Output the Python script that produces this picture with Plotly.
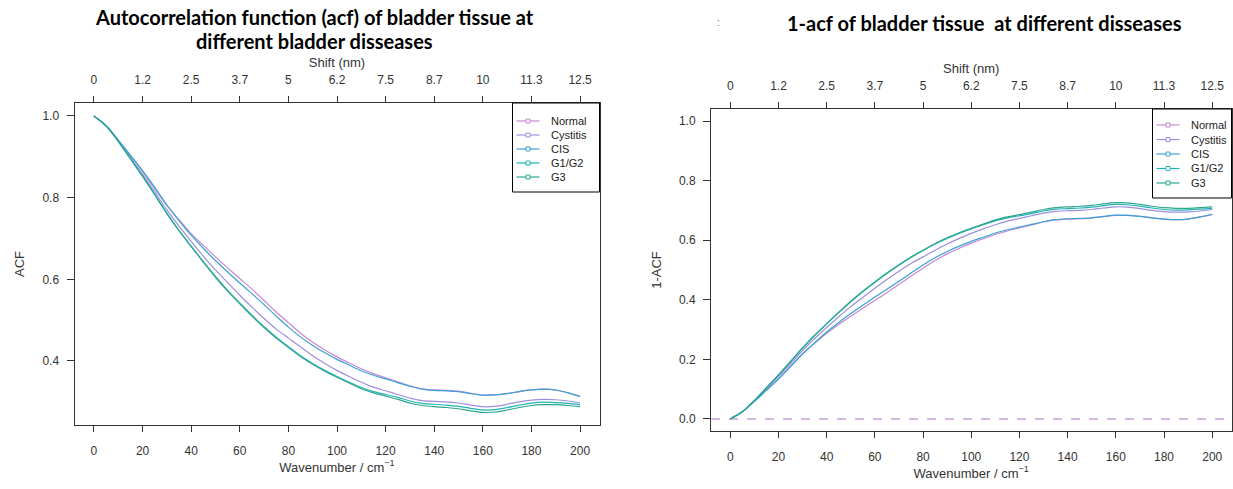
import plotly.graph_objects as go

# ---------------- data ----------------
wavenumber = list(range(0, 201, 5))

acf_normal = [1.000, 0.976, 0.941, 0.903, 0.864, 0.822, 0.781, 0.746, 0.712, 0.683,
              0.655, 0.628, 0.602, 0.576, 0.548, 0.520, 0.494, 0.468, 0.446, 0.427,
              0.410, 0.395, 0.381, 0.369, 0.359, 0.349, 0.339, 0.332, 0.329, 0.328,
              0.326, 0.321, 0.317, 0.317, 0.320, 0.325, 0.329, 0.331, 0.329, 0.322,
              0.314]
acf_cystitis = [1.000, 0.976, 0.939, 0.898, 0.857, 0.814, 0.770, 0.730, 0.693, 0.657,
                0.623, 0.592, 0.561, 0.532, 0.504, 0.478, 0.456, 0.434, 0.413, 0.394,
                0.377, 0.362, 0.348, 0.336, 0.327, 0.318, 0.309, 0.303, 0.301, 0.300,
                0.297, 0.292, 0.288, 0.289, 0.294, 0.300, 0.304, 0.306, 0.305, 0.302,
                0.297]
acf_cis = [1.000, 0.976, 0.941, 0.904, 0.866, 0.825, 0.782, 0.744, 0.708, 0.676,
           0.646, 0.618, 0.591, 0.565, 0.538, 0.510, 0.483, 0.459, 0.438, 0.420,
           0.404, 0.390, 0.376, 0.365, 0.356, 0.347, 0.338, 0.331, 0.328, 0.327,
           0.325, 0.320, 0.316, 0.317, 0.320, 0.325, 0.329, 0.331, 0.329, 0.322,
           0.313]
acf_g1g2 = [1.000, 0.976, 0.938, 0.896, 0.853, 0.808, 0.762, 0.720, 0.681, 0.643,
            0.607, 0.573, 0.542, 0.512, 0.484, 0.458, 0.435, 0.413, 0.394, 0.377,
            0.362, 0.348, 0.335, 0.325, 0.318, 0.311, 0.302, 0.296, 0.294, 0.292,
            0.289, 0.284, 0.280, 0.281, 0.286, 0.292, 0.297, 0.299, 0.298, 0.296,
            0.293]
acf_g3 = [1.000, 0.976, 0.938, 0.895, 0.852, 0.807, 0.761, 0.719, 0.680, 0.642,
          0.605, 0.571, 0.540, 0.510, 0.482, 0.456, 0.433, 0.411, 0.392, 0.375,
          0.360, 0.346, 0.332, 0.322, 0.314, 0.306, 0.297, 0.291, 0.288, 0.286,
          0.283, 0.278, 0.274, 0.275, 0.280, 0.286, 0.291, 0.293, 0.293, 0.291,
          0.288]

series_names = ["Normal", "Cystitis", "CIS", "G1/G2", "G3"]
series_acf = [acf_normal, acf_cystitis, acf_cis, acf_g1g2, acf_g3]
series_colors = ["#c986d4", "#9c8fe0", "#3aa2d4", "#22b2b6", "#2ea68c"]

wn_ticks = [0, 20, 40, 60, 80, 100, 120, 140, 160, 180, 200]
shift_labels = ["0", "1.2", "2.5", "3.7", "5", "6.2", "7.5", "8.7", "10", "11.3", "12.5"]
acf_ticks = [0.4, 0.6, 0.8, 1.0]
one_minus_ticks = [0.0, 0.2, 0.4, 0.6, 0.8, 1.0]

# ---------------- layout helpers ----------------
W, H = 1233, 489
def fx(p):
    return p / W
def fy(p):
    return 1 - p / H

FONT = "Liberation Sans, Arial, sans-serif"
TITLE_FONT = "Lato, Calibri, sans-serif"
AX = "#333333"

fig = go.Figure()

for name, vals, col in zip(series_names, series_acf, series_colors):
    fig.add_trace(go.Scatter(x=wavenumber, y=vals, mode="lines", name=name,
                             line=dict(color=col, width=1.2, shape="spline", smoothing=0.8),
                             xaxis="x", yaxis="y", showlegend=False))
for name, vals, col in zip(series_names, series_acf, series_colors):
    fig.add_trace(go.Scatter(x=wavenumber, y=[1 - v for v in vals], mode="lines", name=name,
                             line=dict(color=col, width=1.2, shape="spline", smoothing=0.8),
                             xaxis="x2", yaxis="y2", showlegend=False))

# invisible carriers for the top (shift) axes
fig.add_trace(go.Scatter(x=wn_ticks, y=[0.5] * len(wn_ticks), xaxis="x3", yaxis="y",
                         mode="markers", marker=dict(opacity=0), showlegend=False, hoverinfo="skip"))
fig.add_trace(go.Scatter(x=wn_ticks, y=[0.5] * len(wn_ticks), xaxis="x4", yaxis="y2",
                         mode="markers", marker=dict(opacity=0), showlegend=False, hoverinfo="skip"))

common_x = dict(range=[-8, 208], tickvals=wn_ticks, ticks="outside", ticklen=6, tickcolor=AX,
                showgrid=False, zeroline=False, tickfont=dict(size=12, color=AX, family=FONT))

L_BOX = (74.5, 599.5, 103, 425)   # left, right, top, bottom (px)
R_BOX = (711, 1231.5, 109, 431)

fig.update_layout(
    width=W, height=H, autosize=False,
    margin=dict(l=0, r=0, t=0, b=0),
    paper_bgcolor="white", plot_bgcolor="white",
    font=dict(family=FONT, color=AX, size=12),
    showlegend=False,
    xaxis=dict(domain=[fx(L_BOX[0]), fx(L_BOX[1])], anchor="y", showline=True, linecolor=AX,
               linewidth=1, mirror=True, ticklabelstandoff=9,
               title=dict(text="Wavenumber / cm<sup>−1</sup>", standoff=4,
                          font=dict(size=13, color=AX)), **common_x),
    xaxis3=dict(overlaying="x", side="top", anchor="y", showline=False,
                ticktext=shift_labels, ticklabelstandoff=7,
                title=dict(text="Shift (nm)", standoff=2, font=dict(size=13, color=AX)), **common_x),
    yaxis=dict(domain=[fy(L_BOX[3]), fy(L_BOX[2])], anchor="x", range=[0.2432, 1.0318],
               tickvals=acf_ticks, tickformat=".1f", ticks="outside", ticklen=7, tickcolor=AX,
               showline=True, linecolor=AX, linewidth=1, mirror=True, showgrid=False,
               zeroline=False, ticklabelstandoff=5, tickfont=dict(size=12, color=AX),
               title=dict(text="ACF", standoff=14, font=dict(size=13, color=AX))),
    xaxis2=dict(domain=[fx(R_BOX[0]), fx(R_BOX[1])], anchor="y2", showline=True, linecolor=AX,
                linewidth=1, mirror=True, ticklabelstandoff=9,
                title=dict(text="Wavenumber / cm<sup>−1</sup>", standoff=4,
                           font=dict(size=13, color=AX)), **common_x),
    xaxis4=dict(overlaying="x2", side="top", anchor="y2", showline=False,
                ticktext=shift_labels, ticklabelstandoff=7,
                title=dict(text="Shift (nm)", standoff=2, font=dict(size=13, color=AX)), **common_x),
    yaxis2=dict(domain=[fy(R_BOX[3]), fy(R_BOX[2])], anchor="x2", range=[-0.0403, 1.0403],
                tickvals=one_minus_ticks, tickformat=".1f", ticks="outside", ticklen=7,
                tickcolor=AX, showline=True, linecolor=AX, linewidth=1, mirror=True,
                showgrid=False, zeroline=False, ticklabelstandoff=5,
                tickfont=dict(size=12, color=AX),
                title=dict(text="1-ACF", standoff=14, font=dict(size=13, color=AX))),
)

# dashed zero reference line in the right panel
fig.add_shape(type="line", xref="x2 domain", yref="y2", x0=0, x1=1, y0=0, y1=0,
              line=dict(color="#c9a0d8", width=1.5, dash="dash"), layer="below")

# compact boxed legends (line + small open square), anchored to each panel's top-right corner
def add_legend(box_right, box_top, width=87, height=89, first=18, step=14):
    left = box_right - width
    fig.add_shape(type="rect", xref="paper", yref="paper",
                  x0=fx(left), x1=fx(box_right), y0=fy(box_top + height), y1=fy(box_top),
                  line=dict(color="black", width=1), fillcolor="white", layer="above")
    for i, (name, col) in enumerate(zip(series_names, series_colors)):
        yy = box_top + first + i * step
        fig.add_shape(type="line", xref="paper", yref="paper",
                      x0=fx(left + 4), x1=fx(left + 27), y0=fy(yy), y1=fy(yy),
                      line=dict(color=col, width=1.2), layer="above")
        fig.add_shape(type="rect", xref="paper", yref="paper",
                      x0=fx(left + 13.5), x1=fx(left + 17.5), y0=fy(yy + 2), y1=fy(yy - 2),
                      line=dict(color=col, width=1), fillcolor="white", layer="above")
        fig.add_annotation(text=name, x=fx(left + 36), y=fy(yy), xref="paper", yref="paper",
                           showarrow=False, xanchor="left", yanchor="middle",
                           font=dict(size=11, color="#222222", family=FONT))

add_legend(L_BOX[1], L_BOX[2])
add_legend(R_BOX[1], R_BOX[2], width=79, height=89, first=16, step=14.5)

# titles
tfont = dict(family=TITLE_FONT, size=20, color="black", weight="bold")
fig.add_annotation(text="<b>Autocorrelation function (acf) of bladder tissue at</b>",
                   x=fx(314), y=fy(17), xref="paper", yref="paper", showarrow=False,
                   xanchor="center", yanchor="middle", font=tfont)
fig.add_annotation(text="<b>different bladder disseases</b>",
                   x=fx(314), y=fy(41), xref="paper", yref="paper", showarrow=False,
                   xanchor="center", yanchor="middle", font=tfont)
fig.add_annotation(text="<b>1-acf of bladder tissue  at different disseases</b>",
                   x=fx(985), y=fy(23), xref="paper", yref="paper", showarrow=False,
                   xanchor="center", yanchor="middle", font=tfont)
fig.add_annotation(text=":", x=fx(718), y=fy(22), xref="paper", yref="paper", showarrow=False,
                   xanchor="center", yanchor="middle", font=dict(size=10, color="#666666"))

fig.write_html("out.html", config={"displayModeBar": False})
